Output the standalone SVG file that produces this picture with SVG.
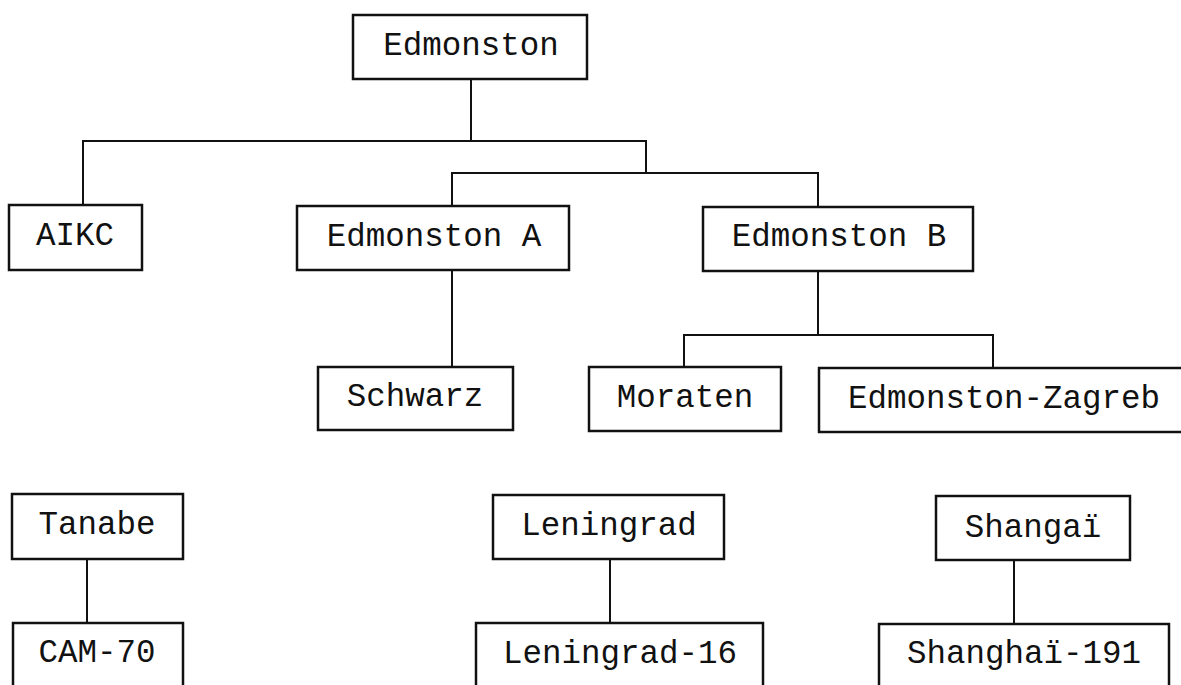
<svg xmlns="http://www.w3.org/2000/svg" width="1181" height="685" viewBox="0 0 1181 685">
<style>
.box{fill:#fff;stroke:#111;stroke-width:2.5}
.lbl{font-family:"Liberation Mono","Courier New",monospace;font-size:32.5px;fill:#111;text-anchor:middle}
.con{fill:none;stroke:#111;stroke-width:2}
</style>
<rect width="1181" height="685" fill="#fff"/>
<g id="connectors">
<path class="con" d="M471 79V141M83 205V141H646V173M452 206V173H818V207"/>
<path class="con" d="M452 270V367"/>
<path class="con" d="M818 271V335M684 367V335H993V368"/>
<path class="con" d="M87 559V623"/>
<path class="con" d="M610 559V623"/>
<path class="con" d="M1014 560V624"/>
</g>
<g id="n-edmonston"><rect class="box" x="353" y="15" width="234" height="64"/><text class="lbl" x="471" y="55">Edmonston</text></g>
<g id="n-aikc"><rect class="box" x="9" y="205" width="133" height="65"/><text class="lbl" x="75" y="245">AIKC</text></g>
<g id="n-edmonston-a"><rect class="box" x="297" y="206" width="272" height="64"/><text class="lbl" x="434" y="246">Edmonston A</text></g>
<g id="n-edmonston-b"><rect class="box" x="703" y="207" width="270" height="64"/><text class="lbl" x="839" y="246">Edmonston B</text></g>
<g id="n-schwarz"><rect class="box" x="318" y="367" width="195" height="63"/><text class="lbl" x="415" y="406">Schwarz</text></g>
<g id="n-moraten"><rect class="box" x="589" y="367" width="192" height="64"/><text class="lbl" x="685" y="407">Moraten</text></g>
<g id="n-edmonston-zagreb"><rect class="box" x="819" y="368" width="375" height="64"/><text class="lbl" x="1004" y="408">Edmonston-Zagreb</text></g>
<g id="n-tanabe"><rect class="box" x="12" y="494" width="171" height="65"/><text class="lbl" x="97" y="534">Tanabe</text></g>
<g id="n-cam70"><rect class="box" x="13" y="623" width="170" height="80"/><text class="lbl" x="97" y="662">CAM-70</text></g>
<g id="n-leningrad"><rect class="box" x="493" y="495" width="231" height="64"/><text class="lbl" x="609" y="535">Leningrad</text></g>
<g id="n-leningrad16"><rect class="box" x="476" y="623" width="287" height="80"/><text class="lbl" x="620" y="663">Leningrad-16</text></g>
<g id="n-shangai"><rect class="box" x="936" y="496" width="194" height="64"/><text class="lbl" x="1033" y="537">Shangaï</text></g>
<g id="n-shanghai191"><rect class="box" x="879" y="624" width="290" height="80"/><text class="lbl" x="1024" y="663">Shanghaï-191</text></g>
</svg>
